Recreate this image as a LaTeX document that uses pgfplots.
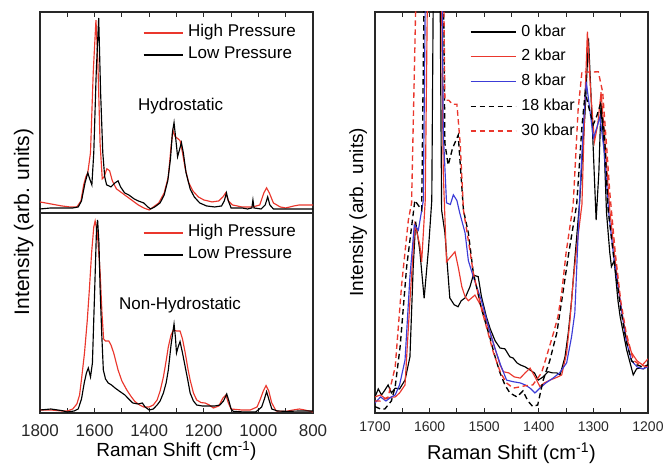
\documentclass[border=0pt]{standalone}
\usepackage{pgfplots}
\pgfplotsset{compat=1.18}
\usepackage{fontspec}
\setmainfont{Liberation Sans}
\definecolor{cred}{RGB}{234,55,45}
\definecolor{cblue}{RGB}{60,60,215}
\definecolor{frame}{RGB}{40,40,40}
\pgfplotsset{
  base/.style={
    scale only axis, width=273pt, anchor=south west,
    x dir=reverse, ymin=0, ymax=1, ytick=\empty,
    axis line style={line width=1.1pt, frame},
    every tick/.style={frame, line width=1pt},
    major tick length=5pt, minor tick length=5pt,
    tick align=inside,
    /pgf/number format/assume math mode=true,
    /pgf/number format/1000 sep={},
    legend cell align=left,
  },
  lleg/.style={legend style={at={(rel axis cs:0.3773,#1)}, anchor=north west, draw=none, fill=none,
    inner sep=0pt, outer sep=0pt, row sep=6pt, column sep=5pt,
    font=\fontsize{17}{20}\selectfont,
    nodes={inner sep=0pt, text height=12pt, text depth=4pt}},
    legend image code/.code={\draw[##1] (0pt,0pt) -- (39pt,0pt);}},
  sl/.style={line width=1.15pt},
  dl/.style={line width=1.35pt, dash pattern=on 5.5pt off 3.5pt},
}
\begin{document}
\begin{tikzpicture}
\useasboundingbox (0pt,0pt) rectangle (664pt,465pt);
% ---------- left top: hydrostatic
\begin{axis}[base, at={(40pt,252pt)}, height=201pt, xmin=800, xmax=1800,
  xtick={800,1000,...,1800}, minor xtick={900,1100,...,1700}, xtick pos=right, xticklabels={},
  lleg=0.9353]
\addplot[cred, sl] coordinates {
(1800,0.055)(1760,0.045)(1720,0.035)(1690,0.03)(1665,0.03)(1650,0.06)(1640,0.14)(1632,0.18)(1625,0.2)
(1615,0.3)(1605,0.7)(1595,0.96)(1588,0.75)(1580,0.35)(1572,0.17)(1565,0.18)(1555,0.22)(1545,0.21)
(1535,0.16)(1520,0.12)(1500,0.1)(1480,0.08)(1460,0.06)(1440,0.04)(1420,0.025)(1400,0.015)(1385,0.03)
(1365,0.05)(1345,0.1)(1330,0.18)(1320,0.33)(1313,0.41)(1305,0.38)(1295,0.37)(1287,0.36)(1278,0.3)
(1268,0.22)(1255,0.15)(1240,0.11)(1220,0.08)(1200,0.065)(1170,0.055)(1145,0.06)(1130,0.08)(1120,0.1)
(1110,0.06)(1095,0.04)(1060,0.03)(1020,0.03)(995,0.04)(980,0.1)(970,0.125)(960,0.1)(945,0.05)
(920,0.03)(900,0.025)(870,0.035)(850,0.04)(820,0.04)(800,0.04)};
\addlegendentry{High Pressure}
\addplot[black, sl] coordinates {
(1800,0.02)(1760,0.025)(1720,0.025)(1680,0.025)(1660,0.03)(1648,0.06)(1635,0.15)(1625,0.2)(1618,0.17)
(1610,0.14)(1603,0.3)(1594,0.7)(1585,0.97)(1578,0.6)(1570,0.3)(1563,0.18)(1556,0.14)(1540,0.13)
(1525,0.15)(1514,0.16)(1505,0.13)(1490,0.1)(1475,0.09)(1455,0.07)(1440,0.06)(1420,0.05)(1405,0.03)
(1395,0.02)(1380,0.03)(1360,0.05)(1345,0.09)(1332,0.16)(1322,0.27)(1315,0.4)(1309,0.45)(1302,0.36)
(1296,0.28)(1290,0.31)(1282,0.35)(1275,0.3)(1265,0.2)(1250,0.12)(1235,0.08)(1215,0.05)(1190,0.035)
(1160,0.03)(1135,0.035)(1125,0.06)(1117,0.1)(1110,0.06)(1100,0.025)(1060,0.025)(1040,0.02)(1024,0.025)
(1020,0.065)(1016,0.025)(990,0.02)(975,0.04)(966,0.08)(958,0.04)(945,0.02)(900,0.02)(850,0.02)(800,0.02)};
\addlegendentry{Low Pressure}
\node[font=\fontsize{17}{20}\selectfont] at (axis cs:1285,0.53) {Hydrostatic};
\end{axis}
% ---------- left bottom: non-hydrostatic
\begin{axis}[base, at={(40pt,52pt)}, height=200pt, xmin=800, xmax=1800,
  xtick={800,1000,...,1800}, minor xtick={900,1100,...,1700}, xtick pos=left,
  tick label style={font=\fontsize{17}{20}\selectfont, frame},
  xticklabel style={inner sep=0pt, yshift=-11pt},
  xlabel style={font=\fontsize{19}{22}\selectfont, at={(axis description cs:0.5,0)}, anchor=base, yshift=-44pt},
  xlabel={Raman Shift (cm\textsuperscript{-1})}, lleg=0.94]
\addplot[cred, sl] coordinates {
(1800,0.015)(1760,0.015)(1720,0.01)(1700,0.01)(1680,0.02)(1665,0.045)(1655,0.09)(1647,0.18)(1637,0.3)
(1627,0.46)(1619,0.62)(1611,0.8)(1603,0.93)(1598,0.96)(1590,0.9)(1580,0.71)(1573,0.5)(1567,0.37)
(1560,0.36)(1548,0.36)(1540,0.34)(1530,0.3)(1514,0.215)(1500,0.16)(1482,0.115)(1465,0.08)(1452,0.057)
(1435,0.04)(1420,0.03)(1400,0.03)(1385,0.04)(1371,0.065)(1360,0.11)(1348,0.18)(1338,0.26)(1330,0.33)
(1320,0.39)(1311,0.415)(1300,0.41)(1287,0.41)(1278,0.37)(1268,0.3)(1258,0.22)(1250,0.165)(1238,0.1)
(1226,0.065)(1210,0.052)(1195,0.05)(1180,0.04)(1165,0.025)(1145,0.035)(1130,0.075)(1119,0.09)
(1110,0.05)(1100,0.02)(1060,0.015)(1030,0.015)(1005,0.03)(994,0.065)(982,0.11)(972,0.137)(962,0.11)
(951,0.05)(935,0.01)(900,0.008)(873,0.015)(850,0.02)(830,0.015)(800,0.005)};
\addlegendentry{High Pressure}
\addplot[black, sl] coordinates {
(1800,0.015)(1760,0.02)(1720,0.012)(1700,0.005)(1675,0.01)(1660,0.02)(1648,0.07)(1638,0.15)(1630,0.2)
(1623,0.225)(1615,0.18)(1608,0.25)(1600,0.6)(1593,0.92)(1589,0.965)(1584,0.85)(1580,0.63)(1574,0.4)
(1568,0.215)(1560,0.17)(1550,0.15)(1538,0.14)(1525,0.125)(1510,0.11)(1489,0.09)(1475,0.07)(1460,0.05)
(1440,0.045)(1425,0.05)(1415,0.03)(1400,0.015)(1385,0.02)(1371,0.04)(1360,0.06)(1348,0.1)(1338,0.15)
(1330,0.215)(1320,0.34)(1309,0.445)(1304,0.38)(1300,0.3)(1294,0.33)(1287,0.357)(1278,0.3)(1268,0.23)
(1258,0.16)(1250,0.1)(1238,0.06)(1226,0.04)(1205,0.035)(1190,0.035)(1160,0.035)(1141,0.04)(1128,0.06)
(1116,0.095)(1108,0.06)(1100,0.02)(1092,0.008)(1050,0.005)(1010,0.005)(988,0.03)(978,0.07)(970,0.107)
(962,0.07)(951,0.02)(930,0.01)(897,0.008)(850,0.01)(800,0.01)};
\addlegendentry{Low Pressure}
\node[font=\fontsize{17}{20}\selectfont] at (axis cs:1287,0.54) {Non-Hydrostatic};
\end{axis}
\node[rotate=90, anchor=base, font=\fontsize{21}{24}\selectfont] at (29pt,243pt) {Intensity (arb. units)};
% ---------- right panel
\begin{axis}[base, at={(375pt,52pt)}, height=401pt, xmin=1200, xmax=1700,
  xtick={1200,1300,...,1700}, minor xtick={1250,1350,...,1650}, xtick pos=both, xticklabel pos=left,
  tick label style={font=\fontsize{14}{16}\selectfont, frame},
  xticklabel style={inner sep=0pt, yshift=-9pt},
  xlabel style={font=\fontsize{20}{24}\selectfont, at={(axis description cs:0.5,0)}, anchor=base, yshift=-47pt},
  xlabel={Raman Shift (cm\textsuperscript{-1})},
  legend style={at={(rel axis cs:0.348,0.97)}, anchor=north west, draw=none, fill=none,
    inner sep=0pt, outer sep=0pt, row sep=8.75pt, column sep=5pt,
    font=\fontsize{16}{19}\selectfont,
    nodes={inner sep=0pt, text height=12pt, text depth=4pt}},
  legend image code/.code={\draw[#1] (0pt,0pt) -- (45pt,0pt);}]
\addplot[black, sl] coordinates {
(1700,0.04)(1694,0.06)(1688,0.045)(1682,0.057)(1676,0.07)(1670,0.05)(1663,0.062)(1655,0.06)(1645,0.082)
(1636,0.14)(1630,0.365)(1625.5,0.477)(1618,0.406)(1610,0.286)(1602,0.41)(1596,0.53)(1592,1.3)(1582,1.3)
(1578,0.506)(1572,0.45)(1563,0.287)(1555,0.27)(1548,0.265)(1542,0.28)(1535,0.287)(1526,0.315)(1520,0.344)
(1511,0.34)(1505,0.29)(1496,0.24)(1489,0.21)(1480,0.18)(1471,0.162)(1462,0.16)(1453,0.14)(1447,0.137)
(1440,0.125)(1434,0.12)(1425,0.115)(1416,0.107)(1408,0.1)(1401,0.082)(1392,0.09)(1383,0.103)(1375,0.1)
(1367,0.1)(1361,0.095)(1352,0.14)(1346,0.2)(1340,0.28)(1333,0.4)(1325,0.53)(1315,0.756)(1309,0.934)
(1303,0.75)(1295,0.481)(1290,0.6)(1286,0.772)(1280,0.65)(1276,0.5)(1270,0.4)(1267,0.365)(1262,0.38)
(1255,0.28)(1251,0.24)(1239,0.157)(1227,0.095)(1221,0.11)(1215,0.112)(1208,0.11)(1200,0.12)};
\addlegendentry{0 kbar}
\addplot[cred, sl] coordinates {
(1700,0.04)(1690,0.045)(1680,0.035)(1670,0.04)(1663,0.04)(1655,0.05)(1645,0.07)(1636,0.28)(1627,0.47)
(1618,0.42)(1614.5,0.377)(1608,0.53)(1602,1.3)(1580,1.3)(1575,0.6)(1569,0.377)(1561,0.39)(1553.5,0.402)
(1547,0.36)(1541,0.315)(1535,0.29)(1529,0.28)(1517,0.294)(1505,0.265)(1489,0.2)(1480,0.16)(1471,0.12)
(1465,0.103)(1455,0.1)(1445,0.09)(1434,0.087)(1425,0.1)(1416,0.112)(1407,0.09)(1398,0.066)(1390,0.075)
(1379.5,0.082)(1365,0.09)(1358,0.095)(1349,0.15)(1343,0.23)(1337,0.33)(1330,0.42)(1321,0.52)(1315,0.8)
(1311,0.951)(1305,0.8)(1298,0.677)(1292,0.72)(1286,0.8)(1280,0.7)(1270,0.506)(1260,0.38)(1250,0.27)
(1240,0.19)(1230,0.15)(1220,0.13)(1210,0.12)(1200,0.135)};
\addlegendentry{2 kbar}
\addplot[cblue, sl] coordinates {
(1700,0.025)(1690,0.04)(1680,0.03)(1670,0.04)(1663,0.045)(1655,0.07)(1645,0.132)(1636,0.34)(1628,0.469)
(1620.6,0.456)(1611.5,0.53)(1606,1.3)(1578,1.3)(1575,0.7)(1569,0.524)(1562,0.52)(1556.5,0.544)(1550,0.53)
(1545,0.5)(1535,0.449)(1529,0.38)(1520,0.34)(1505,0.28)(1489,0.2)(1480,0.16)(1470,0.12)(1459,0.082)
(1447,0.078)(1434,0.075)(1425,0.07)(1416,0.062)(1407,0.05)(1398,0.062)(1387,0.075)(1374,0.087)(1362,0.1)
(1349,0.125)(1340,0.19)(1334,0.25)(1325,0.54)(1318.5,0.714)(1313,0.826)(1306,0.75)(1300,0.686)(1294,0.71)
(1288,0.739)(1280,0.65)(1272,0.5)(1262,0.38)(1250,0.27)(1240,0.18)(1230,0.13)(1220,0.115)(1210,0.11)(1200,0.115)};
\addlegendentry{8 kbar}
\addplot[black, dl] coordinates {
(1700,0.016)(1690,0.01)(1682,0.01)(1670,0.03)(1663,0.066)(1654,0.165)(1642,0.365)(1627,0.53)(1614.5,0.506)
(1608,1.3)(1576,1.3)(1572,0.673)(1566,0.618)(1558,0.66)(1547.6,0.693)(1538,0.506)(1529,0.449)(1520,0.35)
(1505,0.26)(1490,0.19)(1480,0.14)(1471,0.1)(1462,0.07)(1453,0.05)(1440,0.04)(1429,0.055)(1420,0.03)
(1411,0.016)(1402,0.02)(1392,0.082)(1380,0.13)(1367,0.2)(1358,0.28)(1345,0.4)(1330.6,0.52)(1321,0.714)
(1315,0.8)(1308,0.76)(1300,0.72)(1294,0.74)(1287,0.77)(1280,0.7)(1273,0.506)(1262,0.38)(1250,0.26)
(1240,0.18)(1230,0.13)(1220,0.12)(1210,0.115)(1200,0.12)};
\addlegendentry{18 kbar}
\addplot[cred, dl] coordinates {
(1700,0.03)(1690,0.03)(1676,0.04)(1663,0.115)(1651,0.323)(1639,0.48)(1633,0.524)(1621,1.3)(1576,1.3)
(1572,0.78)(1565,0.78)(1558,0.77)(1550,0.77)(1544,0.673)(1538,0.506)(1529,0.43)(1520,0.35)(1505,0.26)
(1483,0.15)(1470,0.1)(1459,0.075)(1447,0.062)(1435,0.065)(1425,0.068)(1411,0.07)(1395,0.1)(1386,0.14)
(1373,0.2)(1365,0.24)(1358,0.3)(1350,0.4)(1337,0.52)(1328,0.756)(1321,0.851)(1306,0.85)(1291,0.851)
(1283,0.8)(1275,0.65)(1270,0.55)(1260,0.4)(1250,0.28)(1240,0.2)(1227,0.132)(1215,0.12)(1200,0.115)};
\addlegendentry{30 kbar}
\end{axis}
\node[rotate=90, anchor=base, font=\fontsize{19}{22}\selectfont] at (363pt,253pt) {Intensity (arb. units)};
\end{tikzpicture}
\end{document}
